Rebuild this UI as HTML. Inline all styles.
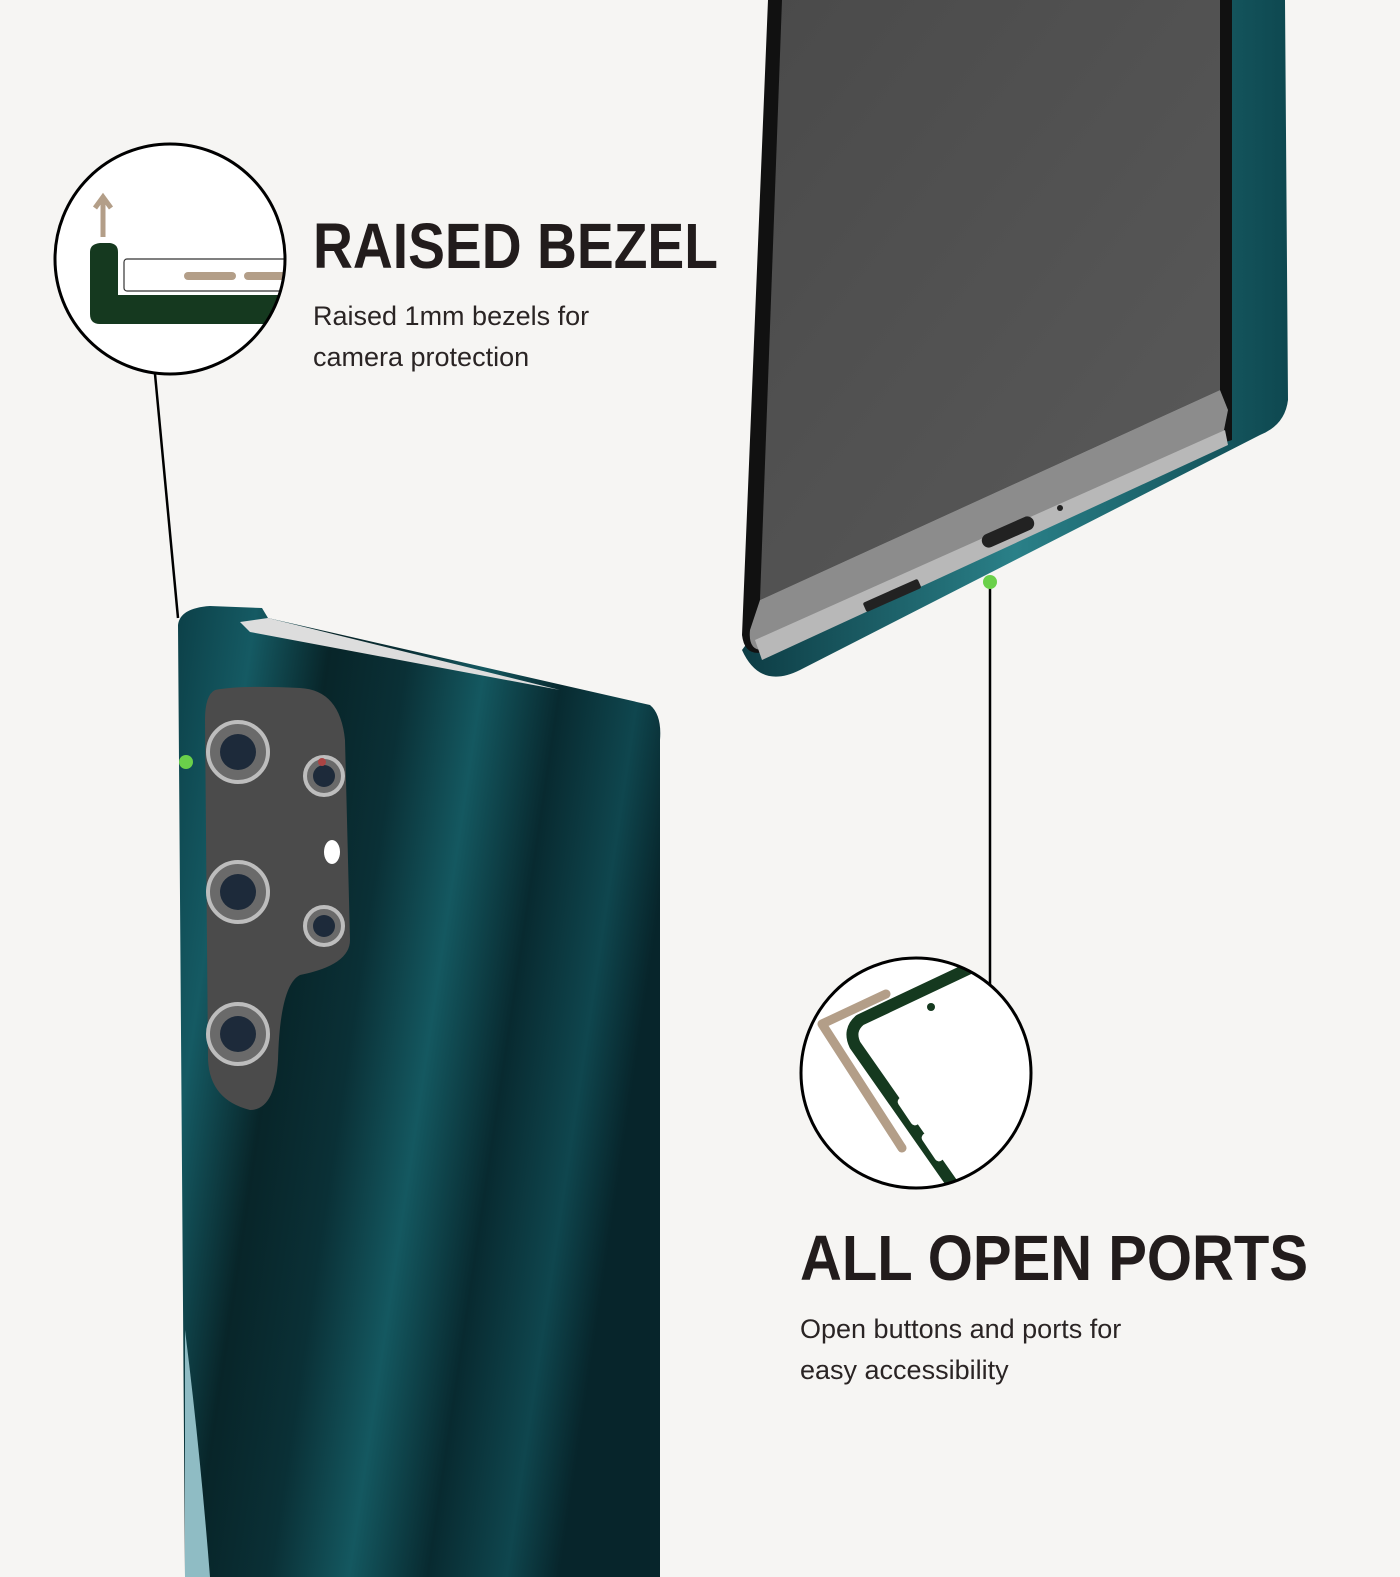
<!DOCTYPE html>
<html><head><meta charset="utf-8"><style>
html,body{margin:0;padding:0;background:#f6f5f3;}
svg{display:block;font-family:"Liberation Sans",sans-serif;}
</style></head><body>
<svg width="1400" height="1577" viewBox="0 0 1400 1577" xmlns="http://www.w3.org/2000/svg">
<defs>
<linearGradient id="teal" x1="0" y1="0" x2="1" y2="0.3">
<stop offset="0" stop-color="#0c4048"/>
<stop offset="0.15" stop-color="#155a63"/>
<stop offset="0.3" stop-color="#082529"/>
<stop offset="0.45" stop-color="#0a3036"/>
<stop offset="0.6" stop-color="#145860"/>
<stop offset="0.75" stop-color="#082a30"/>
<stop offset="0.9" stop-color="#0f464e"/>
<stop offset="1" stop-color="#07252b"/>
</linearGradient>
<linearGradient id="scr" x1="0" y1="0" x2="1" y2="1">
<stop offset="0" stop-color="#4a4a4a"/><stop offset="1" stop-color="#5a5a5a"/>
</linearGradient>
<linearGradient id="strip" x1="0" y1="0" x2="1" y2="0">
<stop offset="0" stop-color="#0d3c44"/><stop offset="0.5" stop-color="#2a8088"/><stop offset="1" stop-color="#0e4850"/>
</linearGradient>
</defs>
<rect width="1400" height="1577" fill="#f6f5f3"/>

<path d="M1228 0 L1285 0 L1288 400 Q1285 425 1260 435 L800 670 Q760 690 742 650 Z" fill="url(#strip)"/>
<path d="M768 0 L1232 0 L1232 440 L1200 450 L770 650 Q745 660 742 635 Z" fill="#111"/>
<path d="M782 0 L1220 0 L1220 390 L760 600 Z" fill="url(#scr)"/>
<path d="M760 600 L1220 390 L1228 410 L1222 440 L762 650 Q748 650 750 630 Z" fill="#8c8c8c"/>
<path d="M755 640 L1225 430 L1228 445 L762 660 Z" fill="#b8b8b8"/>
<rect x="980" y="525" width="56" height="14" rx="7" fill="#222" transform="rotate(-24 1008 532)"/>
<circle cx="1060" cy="508" r="3" fill="#222"/>
<g fill="#222" transform="rotate(-24 893 595)">
<rect x="862" y="590" width="60" height="10" rx="2"/>
</g>

<path d="M178 625 Q180 608 210 606 L262 608 L268 618 L650 705 Q662 715 660 740 L660 1577 L185 1577 Z" fill="url(#teal)"/>
<path d="M240 622 L268 618 L560 690 L250 632 Z" fill="#ddd"/>
<path d="M185 1330 Q200 1450 210 1577 L185 1577 Z" fill="#8fbcc4"/>
<path d="M215 690 Q240 685 300 688 Q340 690 345 740 L350 940 Q350 965 300 975 Q280 985 278 1060 Q275 1110 250 1110 Q210 1100 208 1060 L205 720 Q205 695 215 690 Z" fill="#4b4b4b"/>
<g fill="#6a6a6a" stroke="#bdbdbd" stroke-width="4">
<circle cx="238" cy="752" r="30"/><circle cx="238" cy="892" r="30"/><circle cx="238" cy="1034" r="30"/>
<circle cx="324" cy="776" r="19"/><circle cx="324" cy="926" r="19"/>
</g>
<g fill="#1d2a3a"><circle cx="238" cy="752" r="18"/><circle cx="238" cy="892" r="18"/><circle cx="238" cy="1034" r="18"/><circle cx="324" cy="776" r="11"/><circle cx="324" cy="926" r="11"/></g>
<circle cx="322" cy="762" r="4" fill="#a44"/>
<ellipse cx="332" cy="852" rx="8" ry="12" fill="#fff"/>

<line x1="155" y1="374" x2="178" y2="618" stroke="#000" stroke-width="2.5"/>
<circle cx="186" cy="762" r="7" fill="#6ad04a"/>
<line x1="990" y1="582" x2="990" y2="988" stroke="#000" stroke-width="2.5"/>
<circle cx="990" cy="582" r="7" fill="#6ad04a"/>

<clipPath id="c1"><circle cx="170" cy="259" r="115"/></clipPath>
<circle cx="170" cy="259" r="115" fill="#fff"/>
<g clip-path="url(#c1)">
<path d="M90 252 Q90 244 100 243 L110 243 Q118 244 118 252 L118 295 L300 295 L300 324 L100 324 Q90 324 90 314 Z" fill="#15391f"/>
<rect x="124" y="259" width="180" height="32" rx="3" fill="#fff" stroke="#333" stroke-width="1.2"/>
<line x1="188" y1="276" x2="232" y2="276" stroke="#b39e88" stroke-width="8" stroke-linecap="round"/>
<line x1="248" y1="276" x2="300" y2="276" stroke="#b39e88" stroke-width="8" stroke-linecap="round"/>
</g>
<line x1="103" y1="237" x2="103" y2="200" stroke="#b39e88" stroke-width="5"/>
<path d="M95 208 L103 197 L111 208" fill="none" stroke="#b39e88" stroke-width="5"/>
<circle cx="170" cy="259" r="115" fill="none" stroke="#000" stroke-width="3"/>

<clipPath id="c2"><circle cx="916" cy="1073" r="115"/></clipPath>
<circle cx="916" cy="1073" r="115" fill="#fff"/>
<g clip-path="url(#c2)">
<path d="M970 968 L860 1020 Q848 1030 855 1045 L960 1195" fill="none" stroke="#15391f" stroke-width="12" stroke-linejoin="round"/>
<path d="M1005 985 L1040 1050" stroke="#15391f" stroke-width="12"/>
<path d="M886 994 L822 1024 L902 1148" fill="none" stroke="#b39e88" stroke-width="9" stroke-linecap="round" stroke-linejoin="round"/>
<rect x="893" y="1107" width="32" height="9" rx="4.5" fill="#fff" transform="rotate(56 909 1111)"/>
<rect x="917" y="1143" width="32" height="9" rx="4.5" fill="#fff" transform="rotate(56 933 1147)"/>
<circle cx="931" cy="1007" r="4" fill="#15391f"/>
</g>
<circle cx="916" cy="1073" r="115" fill="none" stroke="#000" stroke-width="3"/>

<text x="313" y="268" font-size="64" fill="#221c1c" textLength="405" lengthAdjust="spacingAndGlyphs" font-weight="bold">RAISED BEZEL</text>
<text x="313" y="325" font-size="27" fill="#2a2424">Raised 1mm bezels for</text>
<text x="313" y="366" font-size="27" fill="#2a2424">camera protection</text>
<text x="800" y="1280" font-size="64" fill="#221c1c" textLength="508" lengthAdjust="spacingAndGlyphs" font-weight="bold">ALL OPEN PORTS</text>
<text x="800" y="1338" font-size="27" fill="#2a2424">Open buttons and ports for</text>
<text x="800" y="1379" font-size="27" fill="#2a2424">easy accessibility</text>
</svg>
</body></html>
